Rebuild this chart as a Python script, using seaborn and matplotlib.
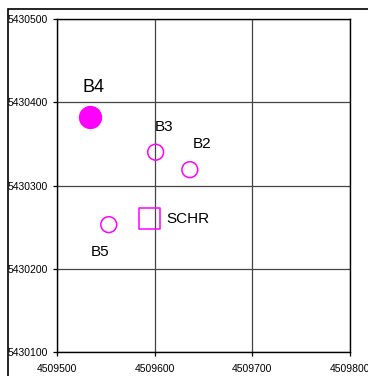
import matplotlib
matplotlib.use('Agg')
import matplotlib.pyplot as plt
import seaborn as sns
import pandas as pd
from matplotlib.patches import Rectangle

# Coordenadas dos pontos (leitura aproximada do gráfico)
names = ['B4', 'B3', 'B2', 'B5', 'SCHR']
east = [4509534, 4509601, 4509636, 4509553, 4509595]
north = [5430382, 5430340, 5430319, 5430253, 5430260]
x_ticks = [4509500, 4509600, 4509700, 4509800]
y_ticks = [5430100, 5430200, 5430300, 5430400, 5430500]

df = pd.DataFrame({'name': names, 'x': east, 'y': north})

sns.set_style('white')
plt.rcParams['font.family'] = ['Liberation Sans', 'DejaVu Sans']

fig = plt.figure(figsize=(3.68, 3.76), dpi=100)
ax = fig.add_axes([57 / 368, 1 - 352 / 376, 293 / 368, 333 / 376])

magenta = '#ff00ff'

# B4 preenchido
sns.scatterplot(data=df[df['name'] == 'B4'], x='x', y='y', ax=ax, s=240,
                color=magenta, edgecolor=magenta, marker='o', legend=False, zorder=3)
# círculos vazios
sns.scatterplot(data=df[df['name'].isin(['B3', 'B2', 'B5'])], x='x', y='y', ax=ax, s=130,
                facecolor='none', edgecolor=magenta, linewidth=1.1, marker='o', legend=False, zorder=3)
# quadrado SCHR
sns.scatterplot(data=df[df['name'] == 'SCHR'], x='x', y='y', ax=ax, s=225,
                facecolor='none', edgecolor=magenta, linewidth=1.1, marker='s', legend=False, zorder=3)

# Rótulos (deslocamento em pixels, tamanho da fonte, alinhamento)
offsets = {'B4': (3, 30, 13, 'center'), 'B3': (8, 25, 11, 'center'), 'B2': (12, 26, 11, 'center'),
           'B5': (-9, -27, 11, 'center'), 'SCHR': (17, -0.5, 11, 'left')}
for n, xv, yv in zip(names, east, north):
    dx, dy, fs, ha = offsets[n]
    ax.annotate(n, (xv, yv), xytext=(dx * 0.72, dy * 0.72), textcoords='offset points',
                ha=ha, va='center', fontsize=fs, color='black')

ax.set_xlim(4509500, 4509800)
ax.set_ylim(5430100, 5430500)
ax.set_xticks(x_ticks)
ax.set_yticks(y_ticks)
ax.set_xticklabels([str(v) for v in x_ticks])
ax.set_yticklabels([str(v) for v in y_ticks])
ax.tick_params(axis='both', labelsize=7.5, direction='out', length=3, width=0.9,
               colors='black', left=True, bottom=True)
ax.tick_params(axis='y', pad=3.5)
ax.tick_params(axis='x', pad=6)
ax.grid(True, color='#444444', linewidth=0.9)
ax.set_axisbelow(True)
for sp in ax.spines.values():
    sp.set_color('black')
    sp.set_linewidth(1.0)
ax.set_xlabel('')
ax.set_ylabel('')

# moldura externa
fig.patches.append(Rectangle((8 / 368, -0.1), 1.2, 1 - 9 / 376 + 0.1, transform=fig.transFigure,
                             fill=False, edgecolor='black', linewidth=1.2))

plt.savefig('out.png', dpi=100)
